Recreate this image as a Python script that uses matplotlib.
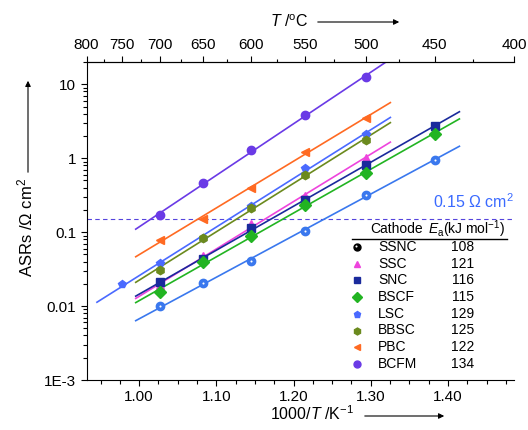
import numpy as np
import matplotlib
matplotlib.use("Agg")
import matplotlib.pyplot as plt
from matplotlib.ticker import FixedLocator, FixedFormatter, LogLocator, NullFormatter

plt.rcParams['font.family'] = ['Liberation Sans', 'DejaVu Sans']
plt.rcParams['mathtext.fontset'] = 'custom'
plt.rcParams['mathtext.rm'] = 'Liberation Sans'
plt.rcParams['mathtext.it'] = 'Liberation Sans:italic'

# measurement temperatures (deg C)
temps_750_500 = [750, 700, 650, 600, 550, 500]
temps_700_500 = [700, 650, 600, 550, 500]
temps_700_450 = [700, 650, 600, 550, 500, 450]

cathodes = ["SSNC", "SSC", "SNC", "BSCF", "LSC", "BBSC", "PBC", "BCFM"]
ea_values = [108, 121, 116, 115, 129, 125, 122, 134]

asr_ssnc = [0.0099, 0.0202, 0.041, 0.105, 0.32, 0.95]
asr_ssc = [0.019, 0.047, 0.13, 0.31, 1.0]
asr_snc = [0.021, 0.043, 0.115, 0.27, 0.81, 2.7]
asr_bscf = [0.0153, 0.040, 0.090, 0.234, 0.63, 2.12]
asr_lsc = [0.0196, 0.0377, 0.084, 0.227, 0.74, 2.12]
asr_bbsc = [0.031, 0.084, 0.21, 0.59, 1.76]
asr_pbc = [0.079, 0.152, 0.40, 1.21, 3.48]
asr_bcfm = [0.172, 0.46, 1.29, 3.82, 12.4]

series = [
    ("SSNC", temps_700_450, asr_ssnc, "#3a78ee", "o"),
    ("SSC", temps_700_500, asr_ssc, "#ee44dd", "^"),
    ("SNC", temps_700_450, asr_snc, "#1a2a9c", "s"),
    ("BSCF", temps_700_450, asr_bscf, "#22b422", "D"),
    ("LSC", temps_750_500, asr_lsc, "#4a6aff", "p"),
    ("BBSC", temps_700_500, asr_bbsc, "#6b8a1e", "h"),
    ("PBC", temps_700_500, asr_pbc, "#ff6a22", "<"),
    ("BCFM", temps_700_500, asr_bcfm, "#6a3ae6", "o"),
]
legend_colors = ["black", "#ee44dd", "#1a2a9c", "#22b422", "#4a6aff", "#6b8a1e", "#ff6a22", "#6a3ae6"]

top_major_c = [800, 750, 700, 650, 600, 550, 500, 450, 400]
top_minor_c = [775, 725, 675, 625, 575, 525, 475, 425]

def inv_t(tc):
    return 1000.0 / (np.asarray(tc, dtype=float) + 273.15)

fig = plt.figure(figsize=(5.28, 4.30), dpi=100)
ax = fig.add_axes([86.5 / 528, 50 / 430, (514 - 86.5) / 528, (380 - 62) / 430])

xlo, xhi = inv_t(800), inv_t(400)

for name, tc, asr, col, mk in series:
    x = inv_t(tc)
    y = np.log10(asr)
    k, b = np.polyfit(x, y, 1)
    xf = np.linspace(x.min() - 0.032, x.max() + 0.032, 20)
    ax.plot(xf, 10 ** (k * xf + b), color=col, lw=1.2, zorder=2)
    ax.plot(x, asr, ls="none", marker=mk, color=col, ms=6, mec=col, zorder=3)
    if name == "SSNC":
        ax.plot(x, asr, ls="none", marker="o", color="white", ms=1.5, mew=0, zorder=4)

ax.axhline(0.15, color="#5544dd", lw=0.8, ls=(0, (4, 3)), zorder=1)
ax.text(0.81, 0.56, r"0.15 $\Omega$ cm$^2$", transform=ax.transAxes, color="#3a6aff",
        fontsize=11.5, ha="left", va="center")

ax.set_yscale("log")
ax.set_ylim(1e-3, 20)
ax.set_xlim(xlo, xhi)
ax.yaxis.set_major_locator(FixedLocator([1e-3, 1e-2, 1e-1, 1, 10]))
ax.yaxis.set_major_formatter(FixedFormatter(["1E-3", "0.01", "0.1", "1", "10"]))
ax.yaxis.set_minor_locator(LogLocator(base=10, subs=np.arange(2, 10)))
ax.yaxis.set_minor_formatter(NullFormatter())

ax.xaxis.set_major_locator(FixedLocator([1.0, 1.1, 1.2, 1.3, 1.4]))
ax.xaxis.set_major_formatter(FixedFormatter(["1.00", "1.10", "1.20", "1.30", "1.40"]))
ax.xaxis.set_minor_locator(FixedLocator(np.arange(0.95, 1.48, 0.025)))

ax.tick_params(which="both", direction="out", labelsize=11, width=0.8)
ax.tick_params(which="major", length=4)
ax.tick_params(which="minor", length=3)
ax.spines["right"].set_visible(False)
for s in ["left", "bottom", "top"]:
    ax.spines[s].set_linewidth(0.8)

ax2 = ax.twiny()
ax2.set_xlim(xlo, xhi)
ax2.xaxis.set_major_locator(FixedLocator(inv_t(top_major_c)))
ax2.xaxis.set_major_formatter(FixedFormatter([str(t) for t in top_major_c]))
ax2.xaxis.set_minor_locator(FixedLocator(inv_t(top_minor_c)))
ax2.tick_params(which="both", direction="out", labelsize=11, width=0.8)
ax2.tick_params(which="major", length=4)
ax2.tick_params(which="minor", length=2.5)
for s in ["right", "left", "bottom"]:
    ax2.spines[s].set_visible(False)
ax2.spines["top"].set_linewidth(0.8)

# legend table drawn by hand
def axx(px):
    return (px - 86.5) / 427.5

def axy(py):
    return (380 - py) / 318.0

ax.text(axx(370), axy(229), "Cathode", transform=ax.transAxes, fontsize=10, va="center")
ax.text(axx(428), axy(229), r"$E_\mathrm{a}$(kJ mol$^{-1}$)", transform=ax.transAxes,
        fontsize=10, va="center")
ax.plot([axx(352), axx(507)], [axy(239), axy(239)], transform=ax.transAxes, color="black",
        lw=1.0, clip_on=False)
for i, (name, ea) in enumerate(zip(cathodes, ea_values)):
    yy = axy(247 + i * 16.7)
    mk = series[i][4]
    ax.plot([axx(357)], [yy], transform=ax.transAxes, marker=mk, color=legend_colors[i],
            ms=5, ls="none", clip_on=False)
    if name == "SSNC":
        ax.plot([axx(356.2)], [yy + 0.003], transform=ax.transAxes, marker="o", color="white",
                ms=1.5, mew=0, ls="none", clip_on=False)
    ax.text(axx(378), yy, name, transform=ax.transAxes, fontsize=10, va="center")
    ax.text(axx(463), yy, str(ea), transform=ax.transAxes, fontsize=10, va="center", ha="center")

# axis titles with arrows
fig.text(308 / 528, 1 - 22 / 430, r"$T$ /$^\mathrm{o}$C", fontsize=11.5, ha="right", va="center")
fig.text(354 / 528, 1 - 414 / 430, r"1000/$T$ /K$^{-1}$", fontsize=11.5, ha="right", va="center")
fig.text(25 / 528, 1 - 178 / 430, r"ASRs /$\Omega$ cm$^2$", fontsize=12, rotation=90,
         ha="center", va="top")
arrow = dict(arrowstyle="-|>", color="black", lw=0.8, mutation_scale=8)
fig.patches.append(matplotlib.patches.FancyArrowPatch((315 / 528, 1 - 22 / 430), (402 / 528, 1 - 22 / 430),
                   transform=fig.transFigure, **arrow))
fig.patches.append(matplotlib.patches.FancyArrowPatch((362 / 528, 1 - 416 / 430), (447 / 528, 1 - 416 / 430),
                   transform=fig.transFigure, **arrow))
fig.patches.append(matplotlib.patches.FancyArrowPatch((28 / 528, 1 - 175 / 430), (28 / 528, 1 - 78 / 430),
                   transform=fig.transFigure, **arrow))

plt.savefig("out.png", dpi=100)
plt.close()
